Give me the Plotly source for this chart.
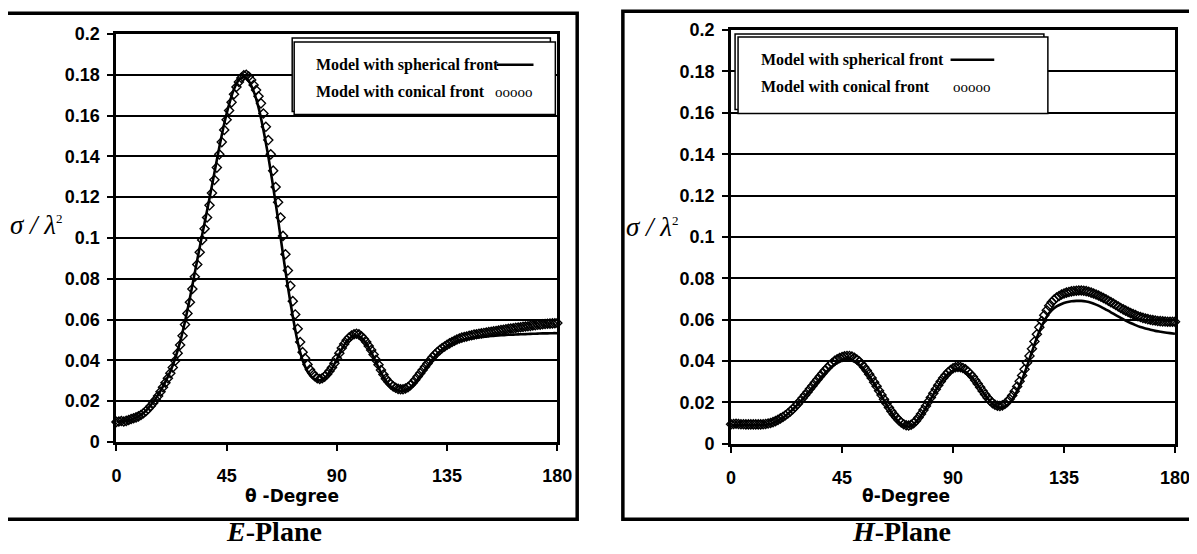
import plotly.graph_objects as go

# ---------------- data ----------------
theta_markers = list(range(0, 181))          # 1-degree steps (conical front markers)
theta_line = list(range(0, 181, 2))          # 2-degree steps (spherical front line)

e_conical = [
    .0098, .0100, .0102, .0100, .0103, .0107, .0112, .0116, .0120, .0125,
    .0132, .0140, .0150, .0162, .0176, .0190, .0207, .0225, .0246, .0268,
    .0290, .0312, .0337, .0365, .0398, .0435, .0475, .0520, .0575, .0630,
    .0685, .0750, .0810, .0870, .0930, .0990, .1045, .1100, .1160, .1220,
    .1285, .1345, .1410, .1470, .1530, .1580, .1625, .1665, .1705, .1740,
    .1765, .1785, .1798, .1800, .1792, .1775, .1750, .1725, .1695, .1660,
    .1610, .1545, .1480, .1410, .1330, .1250, .1175, .1100, .1010, .0920,
    .0840, .0765, .0690, .0625, .0555, .0490, .0440, .0410, .0380, .0355,
    .0338, .0322, .0312, .0308, .0312, .0320, .0332, .0348, .0365, .0385,
    .0410, .0435, .0460, .0480, .0498, .0512, .0522, .0528, .0530, .0527,
    .0518, .0505, .0490, .0470, .0450, .0428, .0402, .0378, .0352, .0330,
    .0310, .0295, .0282, .0272, .0265, .0260, .0258, .0258, .0262, .0268,
    .0278, .0290, .0305, .0320, .0336, .0352, .0368, .0384, .0400, .0415,
    .0428, .0440, .0450, .0460, .0468, .0476, .0483, .0490, .0496, .0502,
    .0507, .0511, .0514, .0517, .0520, .0523, .0526, .0528, .0530, .0532,
    .0534, .0536, .0538, .0540, .0542, .0544, .0546, .0548, .0550, .0552,
    .0554, .0556, .0557, .0559, .0561, .0562, .0564, .0566, .0567, .0569,
    .0571, .0572, .0574, .0575, .0577, .0578, .0579, .0580, .0581, .0582,
    .0583,
]

e_spherical = [
    .0100, .0100, .0103, .0110, .0120, .0132, .0152, .0180, .0212, .0250,
    .0295, .0345, .0410, .0490, .0590, .0705, .0830, .0955, .1075, .1195,
    .1320, .1445, .1560, .1655, .1730, .1775, .1790, .1770, .1720, .1640,
    .1530, .1400, .1250, .1090, .0920, .0760, .0615, .0490, .0400, .0345,
    .0315, .0302, .0305, .0325, .0360, .0405, .0455, .0492, .0515, .0522,
    .0510, .0482, .0440, .0390, .0340, .0300, .0272, .0256, .0250, .0254,
    .0268, .0292, .0322, .0355, .0388, .0418, .0443, .0462, .0477, .0488,
    .0496, .0502, .0506, .0510, .0513, .0516, .0518, .0520, .0522, .0523,
    .0525, .0526, .0527, .0528, .0529, .0530, .0531, .0532, .0532, .0533,
    .0533,
]

h_conical = [
    .0095, .0096, .0097, .0096, .0095, .0095, .0094, .0094, .0094, .0094,
    .0094, .0094, .0094, .0095, .0096, .0098, .0101, .0105, .0110, .0116,
    .0123, .0130, .0138, .0147, .0157, .0168, .0180, .0193, .0207, .0221,
    .0236, .0251, .0266, .0281, .0296, .0311, .0326, .0340, .0354, .0367,
    .0380, .0391, .0401, .0409, .0415, .0420, .0423, .0425, .0425, .0422,
    .0416, .0408, .0398, .0385, .0370, .0354, .0337, .0318, .0298, .0278,
    .0257, .0236, .0215, .0195, .0176, .0158, .0142, .0127, .0114, .0103,
    .0095, .0090, .0089, .0092, .0100, .0112, .0127, .0144, .0163, .0183,
    .0204, .0224, .0244, .0264, .0283, .0301, .0318, .0333, .0346, .0357,
    .0365, .0370, .0372, .0371, .0367, .0360, .0350, .0338, .0324, .0308,
    .0291, .0273, .0256, .0239, .0223, .0209, .0197, .0189, .0184, .0183,
    .0186, .0193, .0203, .0217, .0234, .0254, .0277, .0302, .0330, .0360,
    .0392, .0425, .0460, .0495, .0530, .0563, .0594, .0622, .0646, .0667,
    .0684, .0697, .0707, .0715, .0722, .0727, .0731, .0734, .0737, .0739,
    .0740, .0741, .0741, .0740, .0738, .0735, .0731, .0727, .0722, .0717,
    .0711, .0705, .0699, .0692, .0685, .0678, .0671, .0664, .0657, .0650,
    .0644, .0638, .0632, .0627, .0622, .0617, .0613, .0609, .0606, .0603,
    .0600, .0598, .0596, .0594, .0593, .0592, .0591, .0590, .0590, .0590,
    .0590,
]

h_spherical = [
    .0090, .0090, .0090, .0090, .0090, .0090, .0090, .0092, .0097, .0106,
    .0119, .0135, .0155, .0178, .0203, .0230, .0258, .0286, .0314, .0340,
    .0364, .0384, .0398, .0406, .0406, .0398, .0382, .0358, .0328, .0292,
    .0252, .0210, .0170, .0134, .0106, .0088, .0084, .0095, .0120, .0155,
    .0196, .0238, .0278, .0312, .0338, .0354, .0360, .0355, .0340, .0316,
    .0285, .0252, .0220, .0194, .0178, .0175, .0187, .0214, .0256, .0310,
    .0375, .0445, .0513, .0570, .0615, .0645, .0664, .0676, .0684, .0689,
    .0691, .0691, .0688, .0682, .0673, .0662, .0649, .0636, .0622, .0609,
    .0596, .0584, .0574, .0565, .0558, .0552, .0546, .0542, .0538, .0535,
    .0532,
]

x_ticks = [0, 45, 90, 135, 180]
y_ticks = [0, 0.02, 0.04, 0.06, 0.08, 0.1, 0.12, 0.14, 0.16, 0.18, 0.2]
y_ticktext = ["0", "0.02", "0.04", "0.06", "0.08", "0.1", "0.12", "0.14", "0.16", "0.18", "0.2"]

series_names = ["Model with spherical front", "Model with conical front"]
x_title = ["θ -Degree", "θ-Degree"]
captions = ["<i>E</i>-Plane", "<i>H</i>-Plane"]
y_label = "<i>σ / λ</i><sup><span style='font-size:13px'>2</span></sup>"

# ---------------- layout helpers ----------------
OFF = 8
W, H = 1197 - OFF, 554 - OFF
SX, SY = 1.01, 1.03     # slight stretch about the page centre
def px(x):
    x = 598 + (x - 598) * SX
    return (x - OFF) / W
def py(y):
    y = 277 + (y - 277) * SY
    return 1 - (y - OFF) / H

fig = go.Figure()

for (xa, ya, sph, con) in [("x", "y", e_spherical, e_conical), ("x2", "y2", h_spherical, h_conical)]:
    fig.add_trace(go.Scatter(
        x=theta_line, y=sph, xaxis=xa, yaxis=ya, mode="lines",
        line=dict(color="black", width=2.6, shape="spline", smoothing=0.6),
        name=series_names[0], cliponaxis=False))
    fig.add_trace(go.Scatter(
        x=theta_markers, y=con, xaxis=xa, yaxis=ya, mode="markers",
        marker=dict(symbol="diamond-open", size=7, color="black", line=dict(width=1.4, color="black")),
        name=series_names[1], cliponaxis=False))

tickfont = dict(family="Liberation Sans, Arial", size=18, color="black", weight="bold")
xcommon = dict(range=[0, 180], tickvals=x_ticks, ticktext=[str(v) for v in x_ticks],
               showgrid=False, zeroline=False, showline=True, linecolor="black", linewidth=3,
               mirror=True, ticks="outside", ticklen=6, tickwidth=1.5, tickcolor="black",
               tickfont=tickfont, ticklabelstandoff=10)
ycommon = dict(range=[0, 0.2], tickvals=y_ticks, ticktext=y_ticktext,
               showgrid=True, gridcolor="black", gridwidth=1.6, zeroline=False,
               showline=True, linecolor="black", linewidth=3, mirror=True,
               ticks="outside", ticklen=6, tickwidth=1.5, tickcolor="black",
               tickfont=tickfont, ticklabelstandoff=4)

fig.update_layout(
    width=W, height=H, autosize=False,
    margin=dict(l=0, r=0, t=0, b=0),
    paper_bgcolor="white", plot_bgcolor="white",
    showlegend=False,
    xaxis=dict(domain=[px(118), px(562)], anchor="y", **xcommon),
    yaxis=dict(domain=[py(443), py(32)], anchor="x", **ycommon),
    xaxis2=dict(domain=[px(737), px(1184)], anchor="y2", **xcommon),
    yaxis2=dict(domain=[py(445), py(28)], anchor="x2", **ycommon),
)

shapes = []
annotations = []

# outer frames
shapes.append(dict(type="rect", xref="paper", yref="paper", x0=px(7), x1=px(582), y0=py(521), y1=py(11),
                   line=dict(color="black", width=3.5), fillcolor="rgba(0,0,0,0)"))
shapes.append(dict(type="rect", xref="paper", yref="paper", x0=px(628), x1=px(1215), y0=py(521), y1=py(9),
                   line=dict(color="black", width=3.5), fillcolor="rgba(0,0,0,0)"))

# legend boxes
legends = [
    dict(back=(295, 555, 36, 110), front=(297, 560, 40, 113), tx=317, ty=(63, 90), lx=(501, 538), ox=497),
    dict(back=(741, 1052, 32, 108), front=(744, 1056, 35, 112), tx=765, ty=(58, 85), lx=(958, 1002), ox=958),
]
for lg in legends:
    for key in ("back", "front"):
        x0, x1, y0, y1 = lg[key]
        shapes.append(dict(type="rect", xref="paper", yref="paper", x0=px(x0), x1=px(x1), y0=py(y1), y1=py(y0),
                           line=dict(color="black", width=1.5), fillcolor="white", layer="above"))
    for i, name in enumerate(series_names):
        annotations.append(dict(xref="paper", yref="paper", x=px(lg["tx"]), y=py(lg["ty"][i]),
                                xanchor="left", yanchor="middle", showarrow=False,
                                text="<b>" + name + "</b>",
                                font=dict(family="Liberation Serif, Times New Roman", size=16, color="black")))
    shapes.append(dict(type="line", xref="paper", yref="paper", x0=px(lg["lx"][0]), x1=px(lg["lx"][1]),
                       y0=py(lg["ty"][0]), y1=py(lg["ty"][0]), line=dict(color="black", width=2.5), layer="above"))
    annotations.append(dict(xref="paper", yref="paper", x=px(lg["ox"]), y=py(lg["ty"][1]),
                            xanchor="left", yanchor="middle", showarrow=False, text="ooooo",
                            font=dict(family="Liberation Serif, Times New Roman", size=15, color="black")))

# axis titles, y labels and captions
for i, (cx, cy, yl_x, yl_y, cap_x) in enumerate([(295, 498, 9, 224, 277), (913, 498, 629, 226, 909)]):
    annotations.append(dict(xref="paper", yref="paper", x=px(cx), y=py(cy), xanchor="center", yanchor="middle",
                            showarrow=False, text="<b>" + x_title[i] + "</b>",
                            font=dict(family="DejaVu Sans", size=17, color="black")))
    annotations.append(dict(xref="paper", yref="paper", x=px(yl_x), y=py(yl_y), xanchor="left", yanchor="middle",
                            showarrow=False, text=y_label,
                            font=dict(family="Liberation Serif, Times New Roman", size=27, color="black")))
    annotations.append(dict(xref="paper", yref="paper", x=px(cap_x), y=py(533), xanchor="center", yanchor="middle",
                            showarrow=False, text="<b>" + captions[i] + "</b>",
                            font=dict(family="Liberation Serif, Times New Roman", size=28, color="black")))

fig.update_layout(shapes=shapes, annotations=annotations)

fig.write_html("out.html")
